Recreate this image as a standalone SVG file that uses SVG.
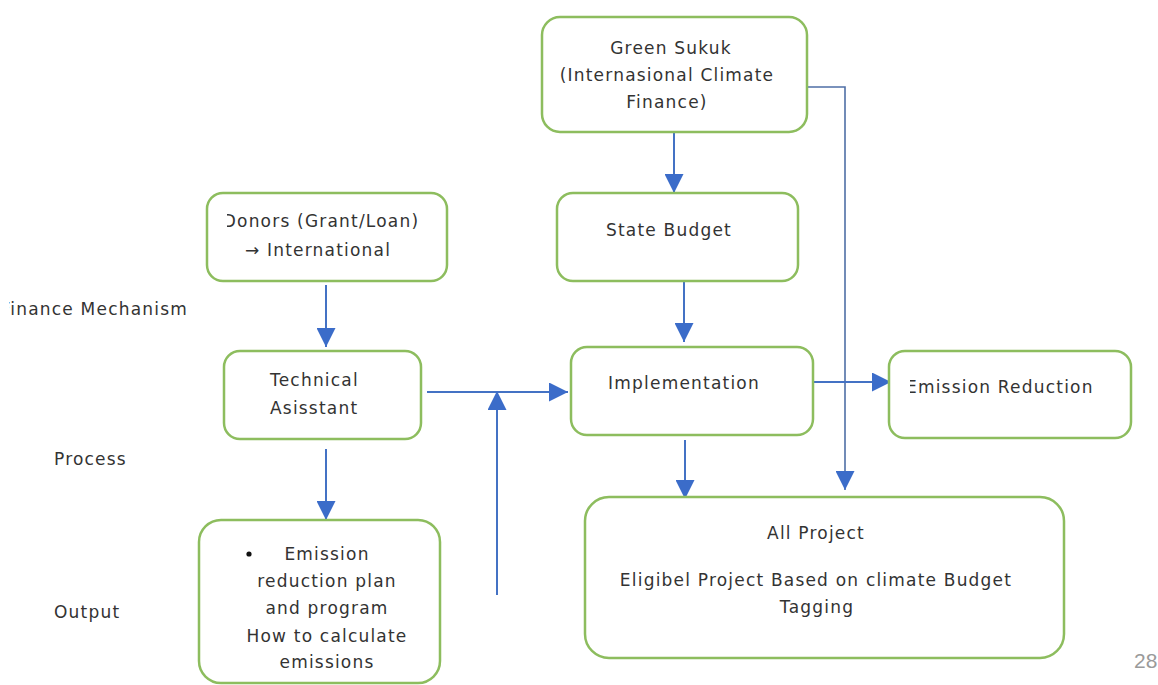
<svg xmlns="http://www.w3.org/2000/svg" width="1158" height="685" viewBox="0 0 1158 685">
  <style>
    .box { fill: #ffffff; stroke: #8dbd5e; stroke-width: 2.5; }
    .t { font-family: "DejaVu Sans", "Liberation Sans", sans-serif; font-size: 17px; fill: #333333; letter-spacing: 1.2px; }
    .c { text-anchor: middle; }
    .link { fill: none; stroke: #4472c4; stroke-width: 2; }
    .link2 { fill: none; stroke: #4f6fa6; stroke-width: 1.6; }
    .num { font-family: "Liberation Sans", sans-serif; font-size: 21px; fill: #9a9a9a; }
  </style>
  <defs>
    <marker id="head" viewBox="0 0 10 10" refX="10" refY="5" markerWidth="19" markerHeight="19" markerUnits="userSpaceOnUse" orient="auto">
      <path d="M0,0 L10,5 L0,10 Z" fill="#3b6cc9"/>
    </marker>
    <clipPath id="clipLabel"><rect x="9" y="290" width="200" height="30"/></clipPath>
    <clipPath id="clipDonors"><rect x="227" y="190" width="220" height="95"/></clipPath>
    <clipPath id="clipEmission"><rect x="910" y="350" width="220" height="90"/></clipPath>
  </defs>

  <rect width="1158" height="685" fill="#ffffff"/>

  <!-- row labels -->
  <g id="labels">
    <g clip-path="url(#clipLabel)">
      <text class="t" x="188" y="315" text-anchor="end">Finance Mechanism</text>
    </g>
    <text class="t" x="54" y="465">Process</text>
    <text class="t" x="54" y="618">Output</text>
  </g>

  <!-- connectors -->
  <g id="connectors">
    <line class="link" x1="674" y1="132" x2="674" y2="193" marker-end="url(#head)"/>
    <polyline class="link2" points="807,87 845,87 845,490" marker-end="url(#head)"/>
    <line class="link" x1="326" y1="285" x2="326" y2="347" marker-end="url(#head)"/>
    <line class="link" x1="684" y1="281" x2="684" y2="342" marker-end="url(#head)"/>
    <line class="link" x1="427" y1="392" x2="568" y2="392" marker-end="url(#head)"/>
    <line class="link" x1="497" y1="595" x2="497" y2="391" marker-end="url(#head)"/>
    <line class="link" x1="813" y1="382" x2="891" y2="382" marker-end="url(#head)"/>
    <line class="link" x1="685" y1="440" x2="685" y2="499" marker-end="url(#head)"/>
    <line class="link" x1="326" y1="449" x2="326" y2="520" marker-end="url(#head)"/>
  </g>

  <g id="green-sukuk">
    <rect class="box" x="542" y="17" width="265" height="115" rx="18"/>
    <text class="t c" x="671" y="54">Green Sukuk</text>
    <text class="t c" x="667" y="81">(Internasional Climate</text>
    <text class="t c" x="667" y="108">Finance)</text>
  </g>

  <g id="donors">
    <rect class="box" x="207" y="193" width="240" height="88" rx="16"/>
    <g clip-path="url(#clipDonors)">
      <text class="t c" x="321" y="227">Donors (Grant/Loan)</text>
    </g>
    <text class="t c" x="318" y="256">→ International</text>
  </g>

  <g id="state-budget">
    <rect class="box" x="557" y="193" width="241" height="88" rx="16"/>
    <text class="t c" x="669" y="236">State Budget</text>
  </g>

  <g id="technical-assistant">
    <rect class="box" x="224" y="351" width="197" height="88" rx="16"/>
    <text class="t" x="270" y="386">Technical</text>
    <text class="t" x="270" y="414">Asisstant</text>
  </g>

  <g id="implementation">
    <rect class="box" x="571" y="347" width="242" height="88" rx="16"/>
    <text class="t c" x="684" y="389">Implementation</text>
  </g>

  <g id="emission-reduction">
    <rect class="box" x="889" y="351" width="242" height="87" rx="16"/>
    <g clip-path="url(#clipEmission)">
      <text class="t" x="906" y="393">Emission Reduction</text>
    </g>
  </g>

  <g id="output">
    <rect class="box" x="199" y="520" width="241" height="163" rx="22"/>
    <circle cx="249" cy="554" r="2.6" fill="#111111"/>
    <text class="t c" x="327" y="560">Emission</text>
    <text class="t c" x="327" y="587">reduction plan</text>
    <text class="t c" x="327" y="614">and program</text>
    <text class="t c" x="327" y="642">How to calculate</text>
    <text class="t c" x="327" y="668">emissions</text>
  </g>

  <g id="all-project">
    <rect class="box" x="585" y="497" width="479" height="161" rx="24"/>
    <text class="t c" x="816" y="539">All Project</text>
    <text class="t c" x="816" y="586">Eligibel Project Based on climate Budget</text>
    <text class="t c" x="817" y="613">Tagging</text>
  </g>

  <text class="num" x="1134" y="668">28</text>
</svg>
